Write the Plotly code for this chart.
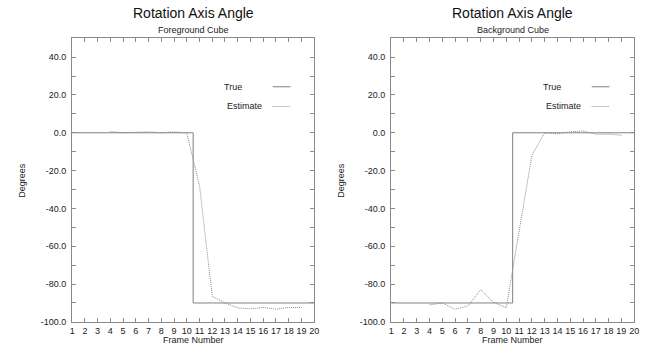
import plotly.graph_objects as go

W, H = 652, 353

# ---- data ----
frames = list(range(1, 21))
true_x = [1, 10.5, 10.5, 20]
fg_true = [0, 0, -90, -90]
bg_true = [-90, -90, 0, 0]
est_x = list(range(4, 20))
fg_est = [0.7, 0.0, 0.3, 0.5, 0.0, 0.5, 0.0, -28, -86.5, -90, -92.6, -93.1, -92.4, -93.3, -92.4, -92.4]
bg_est = [-91, -90, -93.3, -91.6, -82.9, -89.7, -92.5, -52.5, -12, 0, -0.5, 0.5, 1.0, -0.8, -0.7, -1.3]
y_ticks = list(range(-100, 51, 10))
y_labels = [f"{v:.1f}" if v % 20 == 0 and v < 50 else "" for v in y_ticks]
titles = ["Rotation Axis Angle", "Rotation Axis Angle"]
subtitles = ["Foreground Cube", "Background Cube"]

FONT = "Liberation Sans, Arial, sans-serif"
AX = "#8a8a8a"
TRUE_C = "#808080"
EST_C = "#8c8c8c"
EST_DASH = "1px,1px"

def px_x(p):
    return p / W

def px_y(p):
    return 1 - p / H

panels = [
    dict(x0=70, x1=315, true=fg_true, est=fg_est),
    dict(x0=393, x1=639, true=bg_true, est=bg_est),
]
y_top, y_bot = 38.8, 326.5

fig = go.Figure()
annotations = []
shapes = []
layout = {}
for i, p in enumerate(panels):
    n = "" if i == 0 else str(i + 1)
    xa, ya = "x" + n, "y" + n
    fig.add_trace(go.Scatter(x=true_x, y=p["true"], mode="lines", xaxis=xa, yaxis=ya,
                             line=dict(color=TRUE_C, width=1), showlegend=False))
    fig.add_trace(go.Scatter(x=est_x, y=p["est"], mode="lines", xaxis=xa, yaxis=ya,
                             line=dict(color=EST_C, width=1, dash=EST_DASH), showlegend=False))
    common = dict(showline=True, linecolor=AX, linewidth=1, mirror="ticks", ticks="inside",
                  ticklen=4, tickcolor=AX, tickwidth=1, showgrid=False, zeroline=False,
                  tickfont=dict(family=FONT, size=9, color="#222"))
    layout["xaxis" + n] = dict(common, domain=[px_x(p["x0"]), px_x(p["x1"])], range=[1, 20],
                               tickvals=frames, ticktext=[str(f) for f in frames],
                               anchor=ya)
    layout["yaxis" + n] = dict(common, domain=[px_y(y_bot), px_y(y_top)], range=[-100, 50],
                               tickvals=y_ticks, ticktext=y_labels, anchor=xa,
                               ticklabelstandoff=3)
    cx = (p["x0"] + p["x1"]) / 2
    annotations += [
        dict(text=titles[i], x=px_x(cx), y=px_y(13), xref="paper", yref="paper",
             showarrow=False, font=dict(family=FONT, size=14, color="#111"),
             xanchor="center", yanchor="middle"),
        dict(text=subtitles[i], x=px_x(cx), y=px_y(30), xref="paper", yref="paper",
             showarrow=False, font=dict(family=FONT, size=9, color="#222"),
             xanchor="center", yanchor="middle"),
        dict(text="Frame Number", x=px_x(cx), y=px_y(345), xref="paper", yref="paper",
             showarrow=False, font=dict(family=FONT, size=9, color="#222"),
             xanchor="center", yanchor="middle"),
        dict(text="Degrees", x=px_x(p["x0"] - 51), y=px_y((y_top + y_bot) / 2),
             xref="paper", yref="paper", textangle=-90,
             showarrow=False, font=dict(family=FONT, size=9, color="#222"),
             xanchor="center", yanchor="middle"),
    ]
    # legend (text left, sample line right)
    off = 0 if i == 0 else (545 - 222)
    annotations += [
        dict(text="True", x=px_x(222 + off), y=px_y(88), xref="paper", yref="paper",
             showarrow=False, font=dict(family=FONT, size=9, color="#222"),
             xanchor="left", yanchor="middle"),
        dict(text="Estimate", x=px_x(225 + off), y=px_y(108), xref="paper", yref="paper",
             showarrow=False, font=dict(family=FONT, size=9, color="#222"),
             xanchor="left", yanchor="middle"),
    ]
    shapes += [
        dict(type="line", xref="paper", yref="paper", x0=px_x(273 + off), x1=px_x(291 + off),
             y0=px_y(88), y1=px_y(88), line=dict(color=TRUE_C, width=1)),
        dict(type="line", xref="paper", yref="paper", x0=px_x(273 + off), x1=px_x(291 + off),
             y0=px_y(108), y1=px_y(108), line=dict(color=EST_C, width=1, dash=EST_DASH)),
    ]

fig.update_layout(width=W, height=H, margin=dict(l=0, r=0, t=0, b=0),
                  paper_bgcolor="white", plot_bgcolor="white", hovermode=False,
                  annotations=annotations, shapes=shapes, **layout)
# remove the default 8px page margin so the figure fills the window exactly
fig.write_html("out.html", config={"displayModeBar": False},
               post_script="document.body.style.margin='0';document.body.style.overflow='hidden';")
